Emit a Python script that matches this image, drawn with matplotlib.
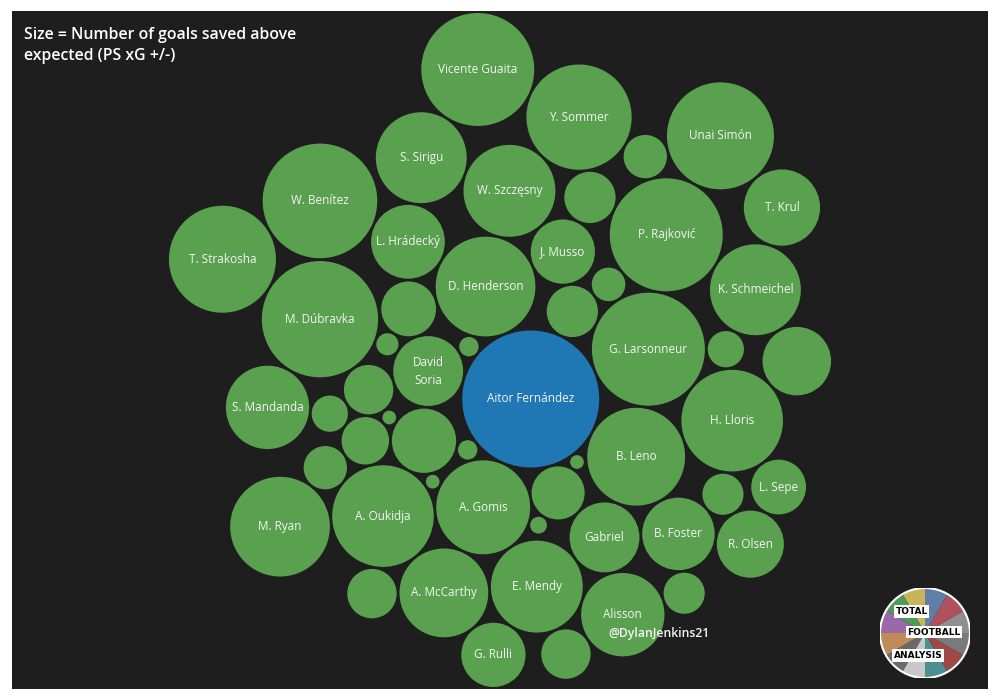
"""
Packed bubbles - goalkeepers, goals saved above expected (PS xG +/-)
"""
import matplotlib.pyplot as plt
import numpy as np
from matplotlib.patches import Circle, Wedge

# players in placement order (centre outwards), blank = bubble too small for a label
players = ["", "", "", "A. Oukidja", "", "A. Gomis", "A. McCarthy", "", "E. Mendy", "",
           "Aitor Fernández", "", "David\nSoria", "Gabriel", "B. Leno", "Alisson", "G. Rulli",
           "B. Foster", "G. Larsonneur", "", "", "", "D. Henderson", "", "H. Lloris", "", "",
           "", "", "", "", "J. Musso", "R. Olsen", "P. Rajković", "", "K. Schmeichel",
           "L. Sepe", "W. Szczęsny", "", "", "", "L. Hrádecký", "M. Dúbravka", "", "",
           "S. Sirigu", "Y. Sommer", "W. Benítez", "S. Mandanda", "M. Ryan", "",
           "Vicente Guaita", "Unai Simón", "T. Krul", "T. Strakosha"]
goals_saved = [1.2, 2.2, 0.1, 5.5, 0.1, 4.7, 4.2, 1.3, 4.5, 0.2,
               10.0, 1.5, 2.6, 2.6, 5.1, 3.7, 2.2,
               2.8, 6.8, 1.3, 0.15, 0.2, 5.3, 1.4, 5.5, 1.3, 0.9,
               0.9, 1.6, 0.6, 0.1, 2.2, 2.4, 6.8, 0.7, 4.4,
               1.6, 4.5, 0.26, 2.5, 1.4, 2.9, 7.2, 0.7, 1.0,
               4.4, 5.9, 7.0, 3.7, 5.3, 1.0,
               6.8, 6.1, 3.1, 6.1]
highlight = "Aitor Fernández"

title = "Size = Number of goals saved above\nexpected (PS xG +/-)"
credit = "@DylanJenkins21"

BG = "#1e1e1e"
GREEN = "#59a14f"
BLUE = "#1f77b4"


def pack_circles(radii, gap):
    # greedy packing: each bubble goes to the free tangent spot nearest the centroid
    radii = np.asarray(radii, float) + gap / 2
    n = len(radii)
    pos = np.zeros((n, 2))
    if n > 1:
        pos[1] = [radii[0] + radii[1], 0]
    for i in range(2, n):
        P, R = pos[:i], radii[:i]
        w = R ** 2
        centre = (P * w[:, None]).sum(0) / w.sum()
        ia, ib = np.triu_indices(i, 1)
        pa, vec = P[ia], P[ib] - P[ia]
        da, db = R[ia] + radii[i], R[ib] + radii[i]
        d = np.hypot(vec[:, 0], vec[:, 1])
        ok = (d < da + db) & (d > np.abs(da - db)) & (d > 0)
        pa, vec, d, da, db = pa[ok], vec[ok], d[ok], da[ok], db[ok]
        a = (da ** 2 - db ** 2 + d ** 2) / (2 * d)
        h = np.sqrt(np.maximum(da ** 2 - a ** 2, 0))
        u = vec / d[:, None]
        perp = np.column_stack([-u[:, 1], u[:, 0]])
        base = pa + a[:, None] * u
        cand = np.vstack([base + h[:, None] * perp, base - h[:, None] * perp])
        dist = np.hypot(cand[:, None, 0] - P[None, :, 0], cand[:, None, 1] - P[None, :, 1])
        free = np.all(dist >= R[None, :] + radii[i] - 1e-9, axis=1)
        cand = cand[free]
        best = np.argmin(np.hypot(cand[:, 0] - centre[0], cand[:, 1] - centre[1]))
        pos[i] = cand[best]
    return pos


radius = np.sqrt(np.array(goals_saved))
xy = pack_circles(radius, gap=0.13)

fig = plt.figure(figsize=(10, 7), dpi=100, facecolor="white")
ax = fig.add_axes([12 / 1000, 11 / 700, 976 / 1000, 678 / 700])
ax.set_facecolor(BG)

for (x, y), r, name in zip(xy, radius, players):
    colour = BLUE if name == highlight else GREEN
    ax.add_patch(Circle((x, y), r, facecolor=colour, edgecolor="none"))
    if name:
        ax.text(x, y, name, ha="center", va="center", color="#f4f4f4",
                fontsize=8.5, family="Open Sans", linespacing=1.5)

# fit the cluster into the panel, same pixel scale as the original where possible
x0, x1 = (xy[:, 0] - radius).min(), (xy[:, 0] + radius).max()
y0, y1 = (xy[:, 1] - radius).min(), (xy[:, 1] + radius).max()
k = min(23.45, 674 / (y1 - y0), 960 / (x1 - x0))
cx, cy = (x0 + x1) / 2, (y0 + y1) / 2
ax.set_xlim(cx - 976 / 2 / k, cx + 976 / 2 / k)
ax.set_ylim(cy - 678 / 2 / k, cy + 678 / 2 / k)
ax.set_aspect("equal")
ax.set_xticks([])
ax.set_yticks([])
for s in ax.spines.values():
    s.set_visible(False)

fig.text(24 / 1000, 1 - 27 / 700, title, ha="left", va="top", color="white",
         fontsize=11.4, family="Open Sans", fontweight="semibold", linespacing=1.45)
fig.text(608 / 1000, 1 - 633 / 700, credit, ha="left", va="center", color="#f4f4f4",
         fontsize=8.8, family="Open Sans", fontweight="semibold")

# logo badge bottom right
lg = fig.add_axes([880 / 1000, 22 / 700, 90 / 1000, 90 / 700])
lg.set_xlim(-1, 1)
lg.set_ylim(-1, 1)
lg.set_aspect("equal")
lg.axis("off")
badge = ["#8f8f8f", "#b0505a", "#5f7fa8", "#c9b45a", "#4f9a58", "#9a6aa8",
         "#c08a5a", "#6a6a6a", "#c8c8c8", "#4a9090", "#a04848", "#7a7a7a"]
for j, c in enumerate(badge):
    lg.add_patch(Wedge((0, 0), 1, j * 30, (j + 1) * 30, facecolor=c, edgecolor="none"))
lg.add_patch(Circle((0, 0), 1, facecolor="none", edgecolor="white", lw=1.5))
for txt, tx, ty in [("TOTAL", -0.3, 0.48), ("FOOTBALL", 0.2, 0.02), ("ANALYSIS", -0.15, -0.5)]:
    lg.text(tx, ty, txt, ha="center", va="center", fontsize=6.5, fontweight="bold",
            color="black", family="DejaVu Sans",
            bbox=dict(boxstyle="square,pad=0.2", facecolor="white", edgecolor="none"))

fig.savefig("out.png", dpi=100, facecolor="white")
